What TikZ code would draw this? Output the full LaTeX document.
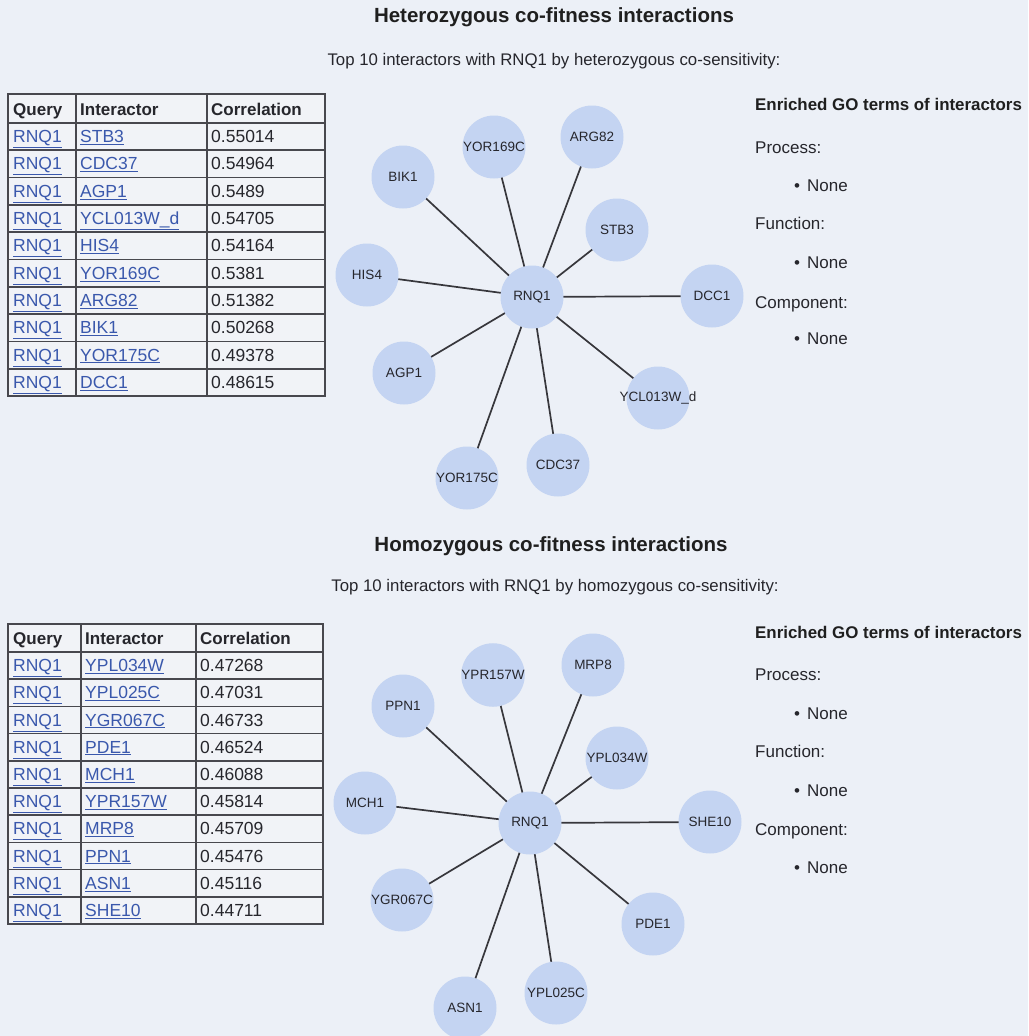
\documentclass[tikz,border=0pt]{standalone}
\usepackage{fontspec}
\setmainfont{Liberation Sans}
\pgfdeclarelayer{bglayer}
\pgfdeclarelayer{edgelayer}
\pgfsetlayers{bglayer,edgelayer,main}
\definecolor{bgc}{RGB}{236,240,247}
\definecolor{nodec}{RGB}{196,212,242}
\definecolor{txtc}{RGB}{38,38,44}
\definecolor{linkc}{RGB}{58,88,172}
\definecolor{edgec}{RGB}{55,55,60}
\definecolor{tabc}{RGB}{72,72,78}
\definecolor{cellc}{RGB}{241,243,247}
\tikzset{
  gnode/.style={circle,fill=nodec,minimum size=63pt,inner sep=0pt,text=txtc,font=\fontsize{13.5}{14}\selectfont},
  gedge/.style={draw=edgec,line width=1.7pt},
  titletxt/.style={inner sep=0pt,text=black!88,font=\fontsize{20.5}{22}\selectfont\bfseries},
  subtxt/.style={inner sep=0pt,text=txtc,font=\fontsize{16.8}{18}\selectfont},
  celltxt/.style={inner sep=0pt,anchor=base west,text=txtc,font=\fontsize{17.5}{18}\selectfont},
  headtxt/.style={celltxt,font=\fontsize{17}{18}\selectfont\bfseries},
  linktxt/.style={celltxt,text=linkc},
  gotxt/.style={inner sep=0pt,anchor=base west,text=txtc,font=\fontsize{17}{18}\selectfont},
  gohead/.style={gotxt,text=black!88,font=\fontsize{16.9}{18}\selectfont\bfseries},
  tabline/.style={draw=tabc,line width=1.7pt}
}
\begin{document}
\begin{tikzpicture}[x=1pt,y=-1pt]
\useasboundingbox (0,0) rectangle (1028,1036);
\begin{pgfonlayer}{bglayer}
\fill[bgc] (0,0) rectangle (1028,1036);
\end{pgfonlayer}

%% ===== Heterozygous section =====
\node[titletxt] (title1) at (554,17) {Heterozygous co-fitness interactions};
\node[subtxt] (sub1) at (554,61) {Top 10 interactors with RNQ1 by heterozygous co-sensitivity:};

% table 1
\fill[cellc] (8,94) rectangle (325,396);
\draw[tabline] (8,94) rectangle (325,396);
\draw[tabline] (76,94) -- (76,396);
\draw[tabline] (207,94) -- (207,396);
\foreach \k in {0,...,9}{
  \pgfmathsetmacro{\yy}{123+27.3*\k}
  \draw[tabline] (8,\yy) -- (325,\yy);
}
\node[headtxt] (h1q) at (13,115) {Query};
\node[headtxt] (h1i) at (80,115) {Interactor};
\node[headtxt] (h1c) at (211,115) {Correlation};
\foreach \g/\c [count=\i] in {STB3/0.55014,CDC37/0.54964,AGP1/0.5489,YCL013W\_d/0.54705,HIS4/0.54164,YOR169C/0.5381,ARG82/0.51382,BIK1/0.50268,YOR175C/0.49378,DCC1/0.48615}{
  \pgfmathsetmacro{\yb}{123+27.3*(\i-0.5)+6}
  \node[linktxt] (a\i q) at (13,\yb) {\underline{RNQ1}};
  \node[linktxt] (a\i i) at (80,\yb) {\underline{\g}};
  \node[celltxt] (a\i c) at (211,\yb) {\c};
}

% graph 1
\node[gnode] (r1) at (532,297) {RNQ1};
\node[gnode] (bik1) at (403,177) {BIK1};
\node[gnode] (yor169c) at (494,147) {YOR169C};
\node[gnode] (arg82) at (592,137) {ARG82};
\node[gnode] (stb3) at (617,230) {STB3};
\node[gnode] (his4) at (367,275) {HIS4};
\node[gnode] (dcc1) at (712,296) {DCC1};
\node[gnode] (agp1) at (404,373) {AGP1};
\node[gnode] (ycl013w) at (658,398) {\makebox[0pt]{YCL013W\_d}};
\node[gnode] (yor175c) at (467,478) {YOR175C};
\node[gnode] (cdc37) at (558,465) {CDC37};
\begin{pgfonlayer}{edgelayer}
\foreach \n in {bik1,yor169c,arg82,stb3,his4,dcc1,agp1,ycl013w,yor175c,cdc37}
  \draw[gedge] (r1.center) -- (\n.center);
\end{pgfonlayer}

% GO terms 1
\node[gohead] (go1h) at (755,110) {Enriched GO terms of interactors};
\node[gotxt] (go1p) at (755,153) {Process:};
\node[gotxt] (go1pn) at (794,191) {\textbullet\hspace{7pt}None};
\node[gotxt] (go1f) at (755,229) {Function:};
\node[gotxt] (go1fn) at (794,268) {\textbullet\hspace{7pt}None};
\node[gotxt] (go1c) at (755,308) {Component:};
\node[gotxt] (go1cn) at (794,344) {\textbullet\hspace{7pt}None};

%% ===== Homozygous section =====
\node[titletxt] (title2) at (551,546) {Homozygous co-fitness interactions};
\node[subtxt] (sub2) at (555,587) {Top 10 interactors with RNQ1 by homozygous co-sensitivity:};

% table 2
\fill[cellc] (8,624) rectangle (323,924);
\draw[tabline] (8,624) rectangle (323,924);
\draw[tabline] (81,624) -- (81,924);
\draw[tabline] (196,624) -- (196,924);
\foreach \k in {0,...,9}{
  \pgfmathsetmacro{\yy}{652+27.2*\k}
  \draw[tabline] (8,\yy) -- (323,\yy);
}
\node[headtxt] (h2q) at (13,644) {Query};
\node[headtxt] (h2i) at (85,644) {Interactor};
\node[headtxt] (h2c) at (200,644) {Correlation};
\foreach \g/\c [count=\i] in {YPL034W/0.47268,YPL025C/0.47031,YGR067C/0.46733,PDE1/0.46524,MCH1/0.46088,YPR157W/0.45814,MRP8/0.45709,PPN1/0.45476,ASN1/0.45116,SHE10/0.44711}{
  \pgfmathsetmacro{\yb}{652+27.2*(\i-0.5)+6}
  \node[linktxt] (b\i q) at (13,\yb) {\underline{RNQ1}};
  \node[linktxt] (b\i i) at (85,\yb) {\underline{\g}};
  \node[celltxt] (b\i c) at (200,\yb) {\c};
}

% graph 2
\node[gnode] (r2) at (530,823) {RNQ1};
\node[gnode] (ppn1) at (403,706) {PPN1};
\node[gnode] (ypr157w) at (493,675) {YPR157W};
\node[gnode] (mrp8) at (593,665) {MRP8};
\node[gnode] (ypl034w) at (617,758) {YPL034W};
\node[gnode] (mch1) at (365,803) {MCH1};
\node[gnode] (she10) at (710,822) {SHE10};
\node[gnode] (ygr067c) at (402,900) {YGR067C};
\node[gnode] (pde1) at (653,924) {PDE1};
\node[gnode] (asn1) at (465,1008) {ASN1};
\node[gnode] (ypl025c) at (556,993) {YPL025C};
\begin{pgfonlayer}{edgelayer}
\foreach \n in {ppn1,ypr157w,mrp8,ypl034w,mch1,she10,ygr067c,pde1,asn1,ypl025c}
  \draw[gedge] (r2.center) -- (\n.center);
\end{pgfonlayer}

% GO terms 2
\node[gohead] (go2h) at (755,638) {Enriched GO terms of interactors};
\node[gotxt] (go2p) at (755,680) {Process:};
\node[gotxt] (go2pn) at (794,719) {\textbullet\hspace{7pt}None};
\node[gotxt] (go2f) at (755,757) {Function:};
\node[gotxt] (go2fn) at (794,796) {\textbullet\hspace{7pt}None};
\node[gotxt] (go2c) at (755,835) {Component:};
\node[gotxt] (go2cn) at (794,873) {\textbullet\hspace{7pt}None};
\end{tikzpicture}
\end{document}
